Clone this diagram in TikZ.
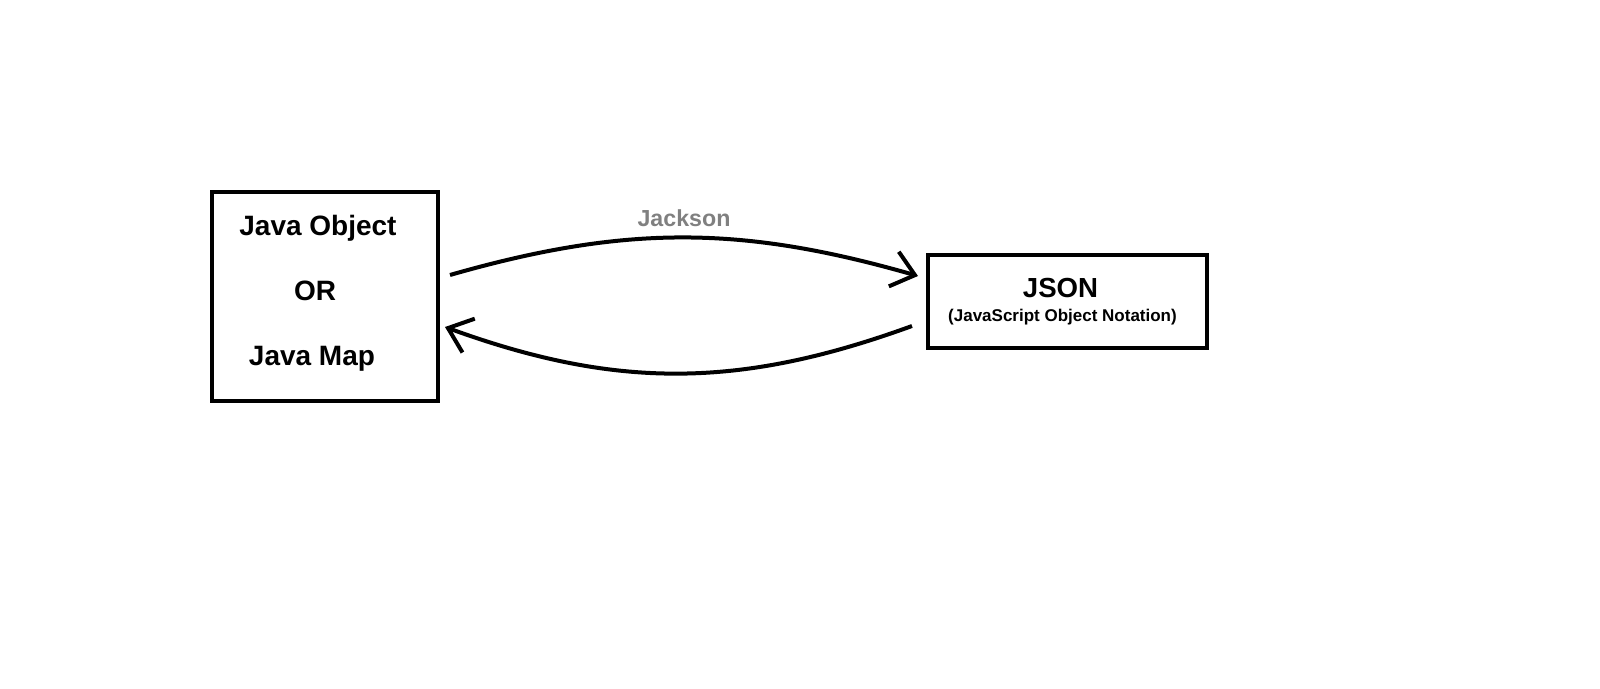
\documentclass[tikz,border=0pt]{standalone}
\usepackage{fontspec}
\setmainfont{Liberation Sans}
\usetikzlibrary{positioning, arrows.meta}

\begin{document}
\begin{tikzpicture}[
        x=0.5pt, y=-0.5pt,
        block/.style={
          align=center, draw, line width=2pt, inner sep=0pt, font=\bfseries
        },
        conv/.style={
          line width=2pt, -{Straight Barb[length=11pt, width=18pt, line width=2pt]}
        },
        tool/.style={
          text=gray, font=\bfseries\fontsize{11.6}{13}\selectfont
        },
      ]
        % frame of the page
        \useasboundingbox (0,0) rectangle (1600,689);

        % Java side
        \node [block, minimum width=113pt, minimum height=104.5pt, text depth=6.4pt,
               font=\bfseries\fontsize{14}{32.5}\selectfont] (java) at (325,296.5)
              {\mbox{Java Object\hspace{7pt}}\\\mbox{OR\hspace{10pt}}\\\mbox{Java Map\hspace{13pt}}};

        % JSON side
        \node [block, minimum width=139.5pt, minimum height=46.5pt] (json) at (1067.5,301.5)
              {\mbox{\fontsize{13.8}{16}\selectfont JSON\hspace{7pt}}\\[0pt]
               \mbox{\fontsize{8.5}{10}\selectfont (JavaScript Object Notation)\hspace{5pt}}};

        % conversions
        \draw [conv] ([xshift=5pt, yshift=10.75pt]java.east) to[out=16, in=164]
              node[tool, pos=0.5, above=1pt] (jackson) {Jackson}
              ([xshift=-4pt, yshift=12.75pt]json.west);
        \draw [conv] ([xshift=-7pt, yshift=-12.25pt]json.west) to[out=200, in=-20]
              ([xshift=2.5pt, yshift=-15.25pt]java.east);

      \end{tikzpicture}
\end{document}
